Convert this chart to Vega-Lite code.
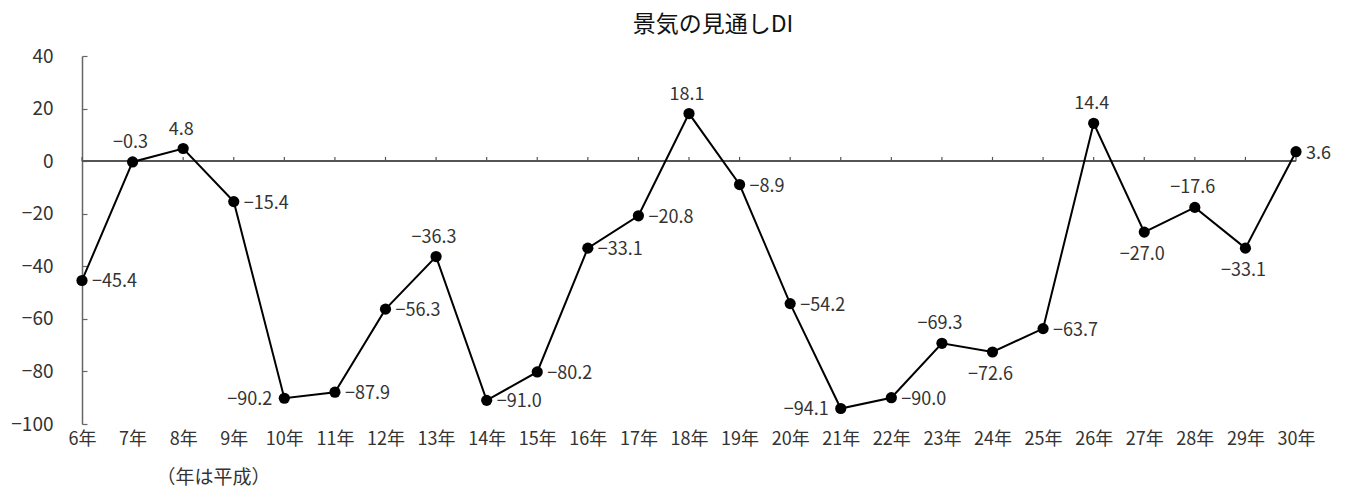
{
  "$schema": "https://vega.github.io/schema/vega-lite/v6.json",
  "autosize": "none",
  "width": 1214,
  "height": 368,
  "padding": {"left": 82, "top": 56, "right": 63, "bottom": 66},
  "background": "white",
  "config": {
    "view": {"stroke": null},
    "font": "Noto Sans CJK JP",
    "axis": {"labelFont": "Noto Sans CJK JP", "labelColor": "#333", "labelFontSize": 18, "grid": false}
  },
  "title": {"text": "景気の見通しDI", "fontSize": 23, "fontWeight": "normal", "color": "#111", "anchor": "middle", "offset": 10, "dx": 24, "font": "Noto Sans CJK JP"},
  "data": {"values": [
    {"year": "6年", "di": -45.4},
    {"year": "7年", "di": -0.3},
    {"year": "8年", "di": 4.8},
    {"year": "9年", "di": -15.4},
    {"year": "10年", "di": -90.2},
    {"year": "11年", "di": -87.9},
    {"year": "12年", "di": -56.3},
    {"year": "13年", "di": -36.3},
    {"year": "14年", "di": -91.0},
    {"year": "15年", "di": -80.2},
    {"year": "16年", "di": -33.1},
    {"year": "17年", "di": -20.8},
    {"year": "18年", "di": 18.1},
    {"year": "19年", "di": -8.9},
    {"year": "20年", "di": -54.2},
    {"year": "21年", "di": -94.1},
    {"year": "22年", "di": -90.0},
    {"year": "23年", "di": -69.3},
    {"year": "24年", "di": -72.6},
    {"year": "25年", "di": -63.7},
    {"year": "26年", "di": 14.4},
    {"year": "27年", "di": -27.0},
    {"year": "28年", "di": -17.6},
    {"year": "29年", "di": -33.1},
    {"year": "30年", "di": 3.6}
  ]},
  "encoding": {
    "x": {"field": "year", "type": "ordinal", "sort": null, "scale": {"type": "point", "padding": 0},
      "axis": {"title": "（年は平成）", "titleFont": "Noto Sans CJK JP", "titleFontSize": 19, "titleFontWeight": "normal", "titleColor": "#333", "titleAnchor": "start", "titleAlign": "center", "titleBaseline": "middle", "titleX": 131, "titleY": 53, "labelAngle": 0, "domain": false, "ticks": false, "labelPadding": 6}},
    "y": {"field": "di", "type": "quantitative", "scale": {"domain": [-100, 40], "nice": false},
      "axis": {"title": null, "values": [-100, -80, -60, -40, -20, 0, 20, 40], "format": "d", "domainColor": "#666", "domainWidth": 1.5, "tickColor": "#666", "tickWidth": 1.2, "tickSize": -5, "labelPadding": 34, "labelFontSize": 19}}
  },
  "layer": [
    {"mark": {"type": "rule", "color": "#555", "strokeWidth": 1.5}, "encoding": {"x": null, "y": {"datum": 0}}},
    {"mark": {"type": "rule", "color": "#555", "strokeWidth": 1.2}, "encoding": {"y": {"datum": 0}, "y2": {"datum": 1.6}}},
    {"mark": {"type": "line", "color": "#000", "strokeWidth": 2}},
    {"mark": {"type": "point", "filled": true, "color": "#000", "opacity": 1, "size": 125}},
    {"transform": [{"filter": {"field": "year", "oneOf": ["6年", "9年", "11年", "12年", "14年", "15年", "16年", "17年", "19年", "20年", "22年", "25年", "30年"]}}],
      "mark": {"type": "text", "align": "left", "baseline": "middle", "dx": 10, "dy": 2, "fontSize": 18, "color": "#333"},
      "encoding": {"text": {"field": "di", "type": "quantitative", "format": ".1f"}}},
    {"transform": [{"filter": {"field": "year", "oneOf": ["10年", "21年"]}}],
      "mark": {"type": "text", "align": "right", "baseline": "middle", "dx": -12, "dy": 2, "fontSize": 18, "color": "#333"},
      "encoding": {"text": {"field": "di", "type": "quantitative", "format": ".1f"}}},
    {"transform": [{"filter": {"field": "year", "oneOf": ["7年", "8年", "13年", "18年", "23年", "26年", "28年"]}}],
      "mark": {"type": "text", "align": "center", "baseline": "middle", "dx": -2, "dy": -19, "fontSize": 18, "color": "#333"},
      "encoding": {"text": {"field": "di", "type": "quantitative", "format": ".1f"}}},
    {"transform": [{"filter": {"field": "year", "oneOf": ["24年", "27年", "29年"]}}],
      "mark": {"type": "text", "align": "center", "baseline": "middle", "dx": -2, "dy": 23, "fontSize": 18, "color": "#333"},
      "encoding": {"text": {"field": "di", "type": "quantitative", "format": ".1f"}}}
  ]
}
